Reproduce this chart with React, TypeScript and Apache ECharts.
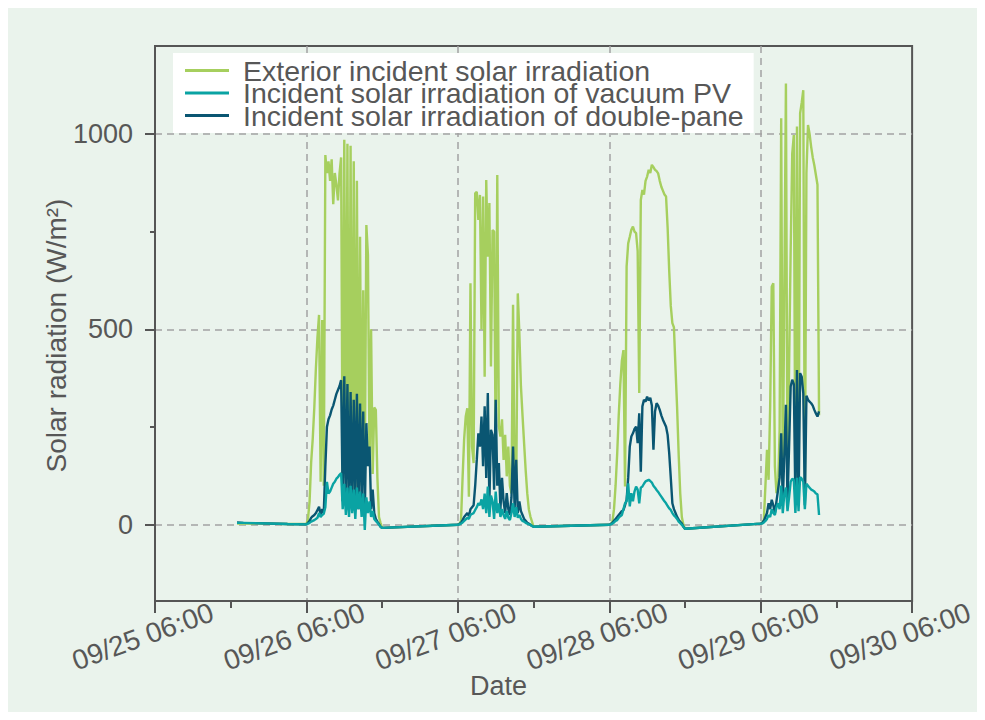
import React, { useEffect, useRef } from "react";
import * as echarts from "echarts";

const SERIES_NAMES = [
  "Exterior incident solar irradiation",
  "Incident solar irradiation of vacuum PV",
  "Incident solar irradiation of double-pane",
];
const COLORS = ["#A6CF5E", "#0AA3A3", "#0A5672"];

const X_TICK_LABELS = ["09/25 06:00", "09/26 06:00", "09/27 06:00", "09/28 06:00", "09/29 06:00", "09/30 06:00"];
const Y_TICKS = [0, 500, 1000];

const DAYS = ["09/26", "09/27", "09/28", "09/29"];
const SLOTS = [
  "06:00", "06:15", "06:30", "06:45", "07:00", "07:15", "07:30", "07:45",
  "08:00", "08:15", "08:30", "08:45", "09:00", "09:15", "09:30", "09:45",
  "10:00", "10:15", "10:30", "10:45", "11:00", "11:15", "11:30", "11:45",
  "12:00", "12:15", "12:30", "12:45", "13:00", "13:15", "13:30", "13:45",
  "14:00", "14:15", "14:30", "14:45", "15:00", "15:15", "15:30", "15:45",
  "16:00", "16:15", "16:30", "16:45", "17:00", "17:15", "17:30", "17:45",
  "18:00",
];

const NIGHT_TIMES = ["09/25 19:00", "09/25 20:00", "09/26 03:00"];
const exteriorNight = [3, 4, 2];
const vacuumNight = [5, 5, 2];
const doubleNight = [6, 5, 2];

const exteriorDay1 = [2, 15, 60, 160, 220, 300, 400, 480, 537, 110, 524, 100, 946, 900, 930, 880, 935, 820, 900, 870, 830, 900, 940, 60, 985, 120, 975, 50, 970, 40, 930, 60, 880, 80, 737, 100, 600, 120, 767, 690, 150, 500, 130, 300, 294, 120, 20, 5, -8];
const vacuumDay1 = [1, 3, 5, 8, 10, 12, 15, 18, 30, 20, 25, 28, 45, 110, 80, 85, 95, 105, 110, 118, 122, 128, 132, 40, 105, 25, 95, 20, 100, 30, 90, 15, 95, 40, 85, 20, 80, -13, 70, 30, 60, 20, 35, 15, 10, 5, 0, -5, -8];
const doubleDay1 = [1, 5, 10, 18, 22, 25, 30, 38, 46, 25, 40, 30, 150, 250, 270, 280, 295, 305, 320, 335, 345, 355, 370, 60, 380, 50, 360, 40, 340, 35, 320, 60, 335, 40, 310, 60, 290, 30, 260, 150, 200, 40, 90, 30, 15, 8, 2, -5, -8];

const exteriorDay2 = [0, 3, 10, 120, 220, 277, 298, 72, 618, 200, 158, 848, 852, 780, 844, 500, 840, 379, 882, 686, 823, 405, 754, 750, 183, 895, 252, 226, 270, 166, 230, 124, 200, 100, 80, 563, 120, 90, 592, 490, 354, 280, 209, 140, 81, 40, 21, 8, -5];
const vacuumDay2 = [0, 1, 3, 6, 10, 14, 18, 15, 25, 28, 30, 38, 45, 55, 50, 65, 40, 80, 30, 98, 20, 75, 60, 15, 85, 30, 55, 20, 40, 25, 15, 35, 18, 12, 30, 55, 20, 45, 18, 25, 15, 10, 8, 5, 3, 1, 0, -3, -5];
const doubleDay2 = [0, 2, 5, 12, 20, 25, 30, 22, 40, 45, 50, 100, 166, 234, 200, 277, 150, 303, 120, 337, 60, 243, 230, 90, 320, 100, 158, 40, 120, 60, 30, 81, 40, 25, 70, 200, 40, 166, 30, 60, 35, 25, 15, 10, 5, 3, 0, -3, -5];

const exteriorDay3 = [0, 2, 8, 40, 100, 180, 280, 360, 420, 447, 98, 661, 720, 737, 755, 763, 750, 746, 700, 337, 831, 857, 845, 880, 891, 908, 900, 921, 915, 908, 905, 899, 880, 865, 855, 845, 840, 760, 650, 560, 516, 505, 400, 300, 180, 80, 20, 0, -10];
const vacuumDay3 = [0, 1, 3, 6, 10, 12, 18, 22, 25, 40, 55, 60, 106, 47, 81, 60, 85, 98, 90, 55, 95, 98, 105, 111, 113, 115, 112, 108, 100, 95, 89, 84, 78, 72, 66, 60, 55, 48, 42, 38, 30, 24, 20, 15, 8, 4, 0, -5, -10];
const doubleDay3 = [0, 2, 5, 10, 15, 20, 25, 30, 35, 38, 50, 64, 120, 200, 226, 234, 245, 251, 209, 285, 136, 303, 320, 315, 328, 318, 325, 305, 192, 290, 311, 305, 294, 280, 269, 260, 251, 230, 183, 120, 55, 40, 30, 20, 13, 8, 3, -5, -10];

const exteriorDay4 = [3, 5, 13, 100, 192, 115, 300, 609, 618, 150, 81, 90, 243, 1040, 100, 600, 1129, 90, 400, 700, 950, 997, 55, 1019, 60, 1053, 1080, 1112, 60, 900, 1023, 1000, 967, 940, 920, 895, 870, 280];
const vacuumDay4 = [3, 3, 6, 10, 15, 25, 20, 40, 30, 25, 45, 55, 40, 100, 30, 80, 95, 35, 70, 110, 118, 115, 30, 120, 35, 122, 118, 110, 40, 105, 100, 95, 90, 88, 85, 80, 78, 25];
const doubleDay4 = [3, 5, 10, 20, 30, 55, 40, 64, 50, 30, 60, 89, 120, 234, 60, 180, 307, 60, 200, 354, 371, 360, 60, 396, 50, 388, 379, 337, 50, 330, 320, 315, 311, 305, 294, 285, 277, 290];

// hours elapsed since 09/25 06:00
function toHours(stamp: string): number {
  const [md, hm] = stamp.split(" ");
  const day = parseInt(md.split("/")[1], 10);
  const [h, m] = hm.split(":").map(Number);
  return (day - 25) * 24 + h + m / 60 - 6;
}

function buildSeries(night: number[], days: number[][]): number[][] {
  const pts: number[][] = night.map((v, i) => [toHours(NIGHT_TIMES[i]), v]);
  days.forEach((vals, d) => {
    vals.forEach((v, i) => pts.push([toHours(DAYS[d] + " " + SLOTS[i]), v]));
  });
  return pts;
}

const FONT = "'Liberation Sans', Arial, sans-serif";
const TEXT = "#575757";
const AXIS = "#555555";

export default function App() {
  const ref = useRef<HTMLDivElement>(null);
  useEffect(() => {
    if (!ref.current) return;
    const chart = echarts.init(ref.current, null, { renderer: "svg" });
    const exterior = buildSeries(exteriorNight, [exteriorDay1, exteriorDay2, exteriorDay3, exteriorDay4]);
    const vacuum = buildSeries(vacuumNight, [vacuumDay1, vacuumDay2, vacuumDay3, vacuumDay4]);
    const dbl = buildSeries(doubleNight, [doubleDay1, doubleDay2, doubleDay3, doubleDay4]);
    const dashed = { color: "#A3A3A3", width: 1.5, type: [7, 5] };
    chart.setOption({
      animation: false,
      backgroundColor: "#EAF3EC",
      textStyle: { fontFamily: FONT },
      grid: {
        left: 147,
        right: 63,
        top: 38,
        bottom: 111,
        show: true,
        borderColor: AXIS,
        borderWidth: 2,
        backgroundColor: "transparent",
      },
      legend: {
        orient: "vertical",
        left: 165,
        top: 45,
        backgroundColor: "#ffffff",
        padding: [3, 10, 3, 12],
        icon: "rect",
        itemWidth: 44,
        itemHeight: 3,
        itemGap: -6.5,
        data: [SERIES_NAMES[0], SERIES_NAMES[1], SERIES_NAMES[2]],
        textStyle: { fontFamily: FONT, fontSize: 28.5, color: TEXT, padding: [0, 0, 0, 9] },
      },
      xAxis: {
        type: "value",
        min: 0,
        max: 120,
        interval: 24,
        name: "Date",
        nameLocation: "middle",
        nameGap: 71,
        nameMoveOverlap: false,
        nameTextStyle: { fontFamily: FONT, fontSize: 27, color: TEXT, padding: [0, 70, 0, 0] },
        axisLine: { show: true, onZero: false, lineStyle: { color: AXIS, width: 2 } },
        axisTick: { show: true, inside: false, length: 12, lineStyle: { color: AXIS, width: 2 } },
        minorTick: { show: true, splitNumber: 2, length: 7, lineStyle: { color: AXIS, width: 2 } },
        axisLabel: {
          rotate: 20,
          align: "center",
          verticalAlign: "middle",
          margin: 31,
          padding: [0, 26, 0, 0],
          fontFamily: FONT,
          fontSize: 28,
          color: TEXT,
          showMinLabel: true,
          showMaxLabel: true,
          formatter: (v: number) => X_TICK_LABELS[Math.round(v / 24)] ?? "",
        },
        splitLine: { show: true, showMinLine: false, showMaxLine: false, lineStyle: dashed },
      },
      yAxis: {
        type: "value",
        min: -195,
        max: 1225,
        splitNumber: 3,
        name: "Solar radiation (W/m²)",
        nameLocation: "middle",
        nameGap: 85,
        nameMoveOverlap: false,
        nameTextStyle: { fontFamily: FONT, fontSize: 28, color: TEXT, padding: [0, 24, 0, 0] },
        axisLine: { show: true, onZero: false, lineStyle: { color: AXIS, width: 2 } },
        axisTick: { show: true, inside: false, length: 10, customValues: Y_TICKS, lineStyle: { color: AXIS, width: 2 } },
        minorTick: { show: true, splitNumber: 2, length: 5, lineStyle: { color: AXIS, width: 2 } },
        axisLabel: {
          customValues: Y_TICKS,
          margin: 22,
          fontFamily: FONT,
          fontSize: 27,
          color: TEXT,
          formatter: (v: number) => String(v),
        },
        splitLine: { show: true, lineStyle: dashed },
      },
      series: [
        {
          name: SERIES_NAMES[0],
          type: "line",
          data: exterior,
          symbol: "none",
          color: COLORS[0],
          lineStyle: { width: 2.4, color: COLORS[0] },
          z: 2,
        },
        {
          name: SERIES_NAMES[2],
          type: "line",
          data: dbl,
          symbol: "none",
          color: COLORS[2],
          lineStyle: { width: 2.4, color: COLORS[2] },
          z: 3,
        },
        {
          name: SERIES_NAMES[1],
          type: "line",
          data: vacuum,
          symbol: "none",
          color: COLORS[1],
          lineStyle: { width: 2.4, color: COLORS[1] },
          z: 4,
        },
      ],
    });
    return () => chart.dispose();
  }, []);
  return <div ref={ref} style={{ width: "100%", height: 704 }} />;
}
